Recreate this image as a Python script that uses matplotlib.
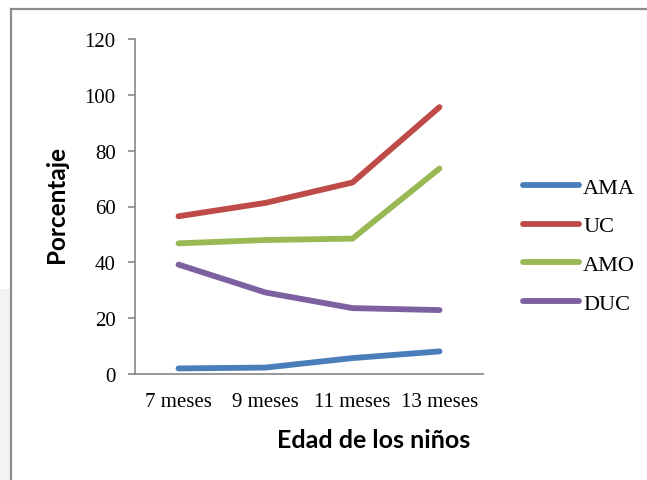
import matplotlib
matplotlib.use('Agg')
import matplotlib.pyplot as plt
from matplotlib.patches import Rectangle

# data
edades = ['7 meses', '9 meses', '11 meses', '13 meses']
ama = [2.0, 2.3, 5.7, 8.1]
uc = [56.5, 61.3, 68.6, 95.6]
amo = [46.8, 48.0, 48.5, 73.6]
duc = [39.2, 29.2, 23.6, 22.9]

series = [('AMA', ama, '#4A7EBB'),
          ('UC', uc, '#BE4B48'),
          ('AMO', amo, '#98B954'),
          ('DUC', duc, '#7D60A0')]

W, H = 647, 481
fig = plt.figure(figsize=(W / 100, H / 100), dpi=100)
fig.patch.set_facecolor('white')

# page background strip + chart border
fig.add_artist(Rectangle((0, 0), 11 / W, 1 - 290 / H, transform=fig.transFigure,
                         facecolor='#f3f3f6', edgecolor='none', zorder=0))
fig.add_artist(plt.Line2D([11 / W, 11 / W], [0, 1 - 10 / H], transform=fig.transFigure,
                          color='#8c8c8c', lw=1.6))
fig.add_artist(plt.Line2D([11 / W, 1], [1 - 10 / H, 1 - 10 / H], transform=fig.transFigure,
                          color='#8c8c8c', lw=1.6))

ax = fig.add_axes([135 / W, 1 - 375 / H, (483 - 135) / W, (375 - 40) / H])
x = range(len(edades))
for name, vals, col in series:
    ax.plot(x, vals, color=col, lw=4.2, label=name, solid_capstyle='round',
            solid_joinstyle='round')

ax.set_xlim(-0.5, 3.5)
ax.set_ylim(0, 120)
ax.set_yticks(range(0, 121, 20))
ax.set_xticks(list(x))
ax.set_xticklabels(edades)

for s in ['top', 'right']:
    ax.spines[s].set_visible(False)
for s in ['left', 'bottom']:
    ax.spines[s].set_color('#868686')
    ax.spines[s].set_linewidth(1.2)

serif = 'Liberation Serif'
ax.tick_params(axis='y', length=5, width=1.2, color='#868686', pad=9)
ax.tick_params(axis='x', length=0, pad=13)
for lab in ax.get_yticklabels() + ax.get_xticklabels():
    lab.set_fontfamily(serif)
    lab.set_fontsize(15)

ax.set_ylabel('Porcentaje', fontfamily='Lato', fontweight='bold', fontsize=17.5)
ax.yaxis.set_label_coords(-67 / (483 - 135), 0.51)
fig.text(374 / W, 1 - 441 / H, 'Edad de los niños', ha='center', va='center',
         fontfamily='Lato', fontweight='bold', fontsize=18)

fig.legend(loc='upper left', bbox_to_anchor=(523 / W, 1 - 178 / H), frameon=False,
           prop={'family': serif, 'size': 16}, handlelength=2.5, handletextpad=0.2,
           labelspacing=0.82, borderpad=0, borderaxespad=0)

fig.savefig('out.png', dpi=100, facecolor='white')
